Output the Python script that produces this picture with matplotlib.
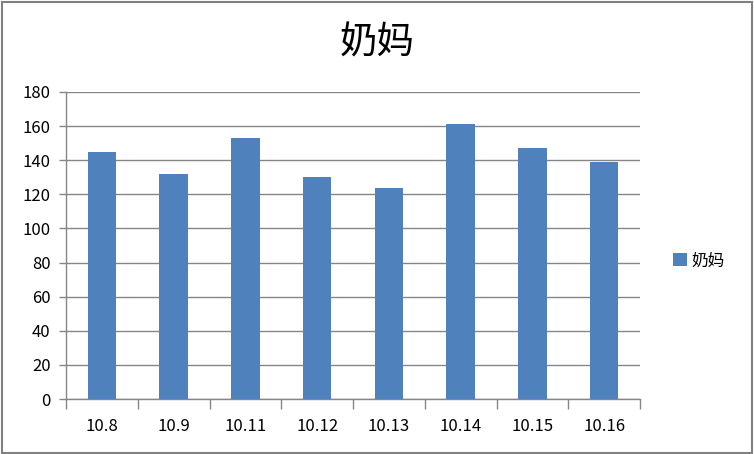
import matplotlib.pyplot as plt
import numpy as np
from matplotlib.patches import Rectangle

plt.rcParams['font.family'] = ['Noto Sans CJK SC', 'DejaVu Sans']

categories = ["10.8", "10.9", "10.11", "10.12", "10.13", "10.14", "10.15", "10.16"]
values = [145, 132, 153, 130, 124, 161, 147, 139]
series_name = "奶妈"

BAR_COLOR = "#4F81BD"
GRID = "#868686"

fig = plt.figure(figsize=(7.54, 4.54), dpi=100)
ax = fig.add_axes([66 / 754, 1 - 399 / 454, (640 - 66) / 754, (399 - 92) / 454])

x = np.arange(len(categories))
ax.bar(x, values, width=0.4, color=BAR_COLOR, zorder=3, label=series_name)

ax.set_xlim(-0.5, len(categories) - 0.5)
ax.set_ylim(0, 180)
ax.set_yticks(range(0, 181, 20))
ax.yaxis.grid(True, color=GRID, linewidth=1, zorder=0)

ax.set_xticks(x)
ax.set_xticklabels(categories, fontsize=12)
ax.set_xticks(np.arange(-0.5, len(categories), 1), minor=True)
ax.tick_params(axis="x", which="major", length=0, pad=14)
ax.tick_params(axis="x", which="minor", length=7, color=GRID, width=1)
ax.tick_params(axis="y", length=5, color=GRID, width=1, labelsize=12, pad=6)

for s in ["top", "right"]:
    ax.spines[s].set_visible(False)
for s in ["left", "bottom"]:
    ax.spines[s].set_color(GRID)
    ax.spines[s].set_linewidth(1)

fig.text(0.5, 0.905, series_name, ha="center", va="center", fontsize=27)

fig.legend(loc="center left", bbox_to_anchor=(0.873, 0.425), frameon=False,
           fontsize=12, handlelength=0.8, handleheight=0.8, handletextpad=0.3)

fig.patches.append(Rectangle((0.002, 0.003), 0.995, 0.993, transform=fig.transFigure,
                             fill=False, edgecolor="#808080", linewidth=1.5))

fig.savefig("out.png", dpi=100)
